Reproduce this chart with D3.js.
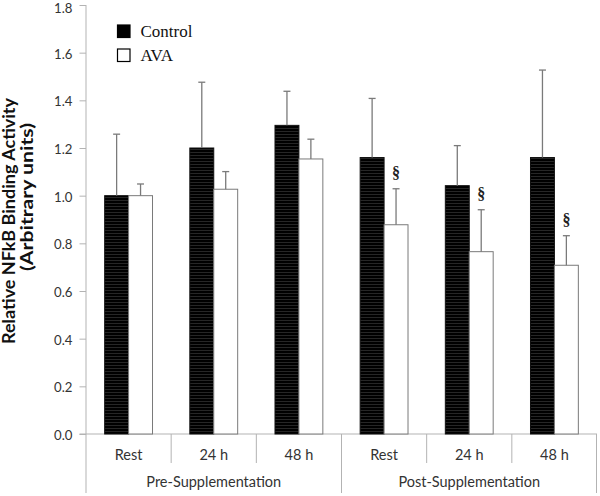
<!DOCTYPE html>
<html>
<head>
<meta charset="utf-8">
<script src="https://cdn.jsdelivr.net/npm/d3@7"></script>
<style>
html,body{margin:0;padding:0;background:#fff;}
svg{display:block;}
</style>
</head>
<body>
<svg id="chart" width="600" height="496"></svg>
<script>
const categories = ["Rest", "24 h", "48 h", "Rest", "24 h", "48 h"];
const groups = ["Pre-Supplementation", "Post-Supplementation"];
const seriesNames = ["Control", "AVA"];
const controlValues = [1.00, 1.20, 1.295, 1.16, 1.042, 1.16];
const controlErr = [0.258, 0.276, 0.143, 0.248, 0.168, 0.367];
const avaValues = [1.00, 1.027, 1.154, 0.878, 0.765, 0.708];
const avaErr = [0.049, 0.074, 0.083, 0.151, 0.176, 0.124];
const avaSignificant = [false, false, false, true, true, true];
const yTicks = [0, 0.2, 0.4, 0.6, 0.8, 1.0, 1.2, 1.4, 1.6, 1.8];
const yTitle1 = "Relative  NFkB Binding Activity";
const yTitle2 = "(Arbitrary units)";

const svg = d3.select("#chart");
const axisColor = "#b3b3b3";
const errColor = "#7a7a7a";
const sansFont = "Lato, 'Open Sans', sans-serif";
const serifFont = "'Liberation Serif', 'DejaVu Serif', serif";

const x0 = 86, x1 = 597, yTop = 5, yBase = 434;
const y = d3.scaleLinear().domain([0, 1.8]).range([yBase, yTop]);
const idx = categories.map((c, i) => i);
const x = d3.scaleBand().domain(idx).range([x0, x1]).padding(0);
const xs = d3.scaleBand().domain(seriesNames).range([0, x.bandwidth()]).paddingOuter(0.78).paddingInner(0);

// pattern for control bars
const defs = svg.append("defs");
const pat = defs.append("pattern").attr("id", "stripes").attr("patternUnits", "userSpaceOnUse")
  .attr("width", 4).attr("height", 3);
pat.append("rect").attr("width", 4).attr("height", 3).attr("fill", "#000");
pat.append("rect").attr("y", 2).attr("width", 4).attr("height", 1).attr("fill", "#262626");

// y axis
const yAxis = svg.append("g").attr("transform", `translate(${x0},0)`)
  .call(d3.axisLeft(y).tickValues(yTicks).tickFormat(d3.format(".1f")).tickSize(6.5).tickPadding(7).tickSizeOuter(6.5));
yAxis.select(".domain").remove();
yAxis.selectAll(".tick line").attr("stroke", axisColor).attr("stroke-width", 1);
yAxis.selectAll(".tick text").attr("font-family", sansFont).attr("font-size", 13.2)
  .attr("dy", d => d >= 1.8 ? "0.6em" : "0.42em").attr("fill", "#333");
svg.append("line").attr("x1", x0).attr("x2", x0).attr("y1", yTop).attr("y2", 493)
  .attr("stroke", axisColor).attr("stroke-width", 1);

// x baseline
svg.append("line").attr("x1", x0 - 6.5).attr("x2", x1).attr("y1", yBase).attr("y2", yBase)
  .attr("stroke", axisColor).attr("stroke-width", 1);

// category separators
idx.slice(1).forEach(i => {
  const xx = x(i);
  const isGroup = i % 3 === 0;
  svg.append("line").attr("x1", xx).attr("x2", xx).attr("y1", yBase).attr("y2", isGroup ? 493 : 463)
    .attr("stroke", axisColor).attr("stroke-width", 1);
});
svg.append("line").attr("x1", x1 - 0.5).attr("x2", x1 - 0.5).attr("y1", yBase).attr("y2", 493)
  .attr("stroke", axisColor).attr("stroke-width", 1);

// category labels
svg.append("g").selectAll("text").data(idx).join("text")
  .attr("x", i => x(i) + x.bandwidth() / 2).attr("y", 460)
  .attr("text-anchor", "middle").attr("font-family", sansFont).attr("font-size", 14.5).attr("fill", "#333")
  .text(i => categories[i]);
// group labels
svg.append("g").selectAll("text").data(groups).join("text")
  .attr("x", (g, j) => x(j * 3) + x.bandwidth() * 1.5).attr("y", 487)
  .attr("text-anchor", "middle").attr("font-family", sansFont).attr("font-size", 14.5).attr("fill", "#333")
  .text(g => g);

// bars
const series = [
  {name: "Control", values: controlValues, err: controlErr},
  {name: "AVA", values: avaValues, err: avaErr}
];
const barG = svg.append("g");
series.forEach(s => {
  idx.forEach(i => {
    const bx = x(i) + xs(s.name);
    const v = s.values[i];
    barG.append("rect").attr("x", bx).attr("y", y(v)).attr("width", xs.bandwidth()).attr("height", yBase - y(v))
      .attr("fill", s.name === "Control" ? "url(#stripes)" : "#fff")
      .attr("stroke", s.name === "Control" ? "#111" : "#7a7a7a").attr("stroke-width", 1);
  });
});
// error bars
series.forEach(s => {
  idx.forEach(i => {
    const cx = x(i) + xs(s.name) + xs.bandwidth() / 2;
    const v = s.values[i], e = s.err[i];
    barG.append("line").attr("x1", cx).attr("x2", cx).attr("y1", y(v)).attr("y2", y(v + e))
      .attr("stroke", errColor).attr("stroke-width", 1.3);
    barG.append("line").attr("x1", cx - 3.5).attr("x2", cx + 3.5).attr("y1", y(v + e)).attr("y2", y(v + e))
      .attr("stroke", errColor).attr("stroke-width", 1.3);
  });
});
// significance markers
idx.filter(i => avaSignificant[i]).forEach(i => {
  const cx = x(i) + xs("AVA") + xs.bandwidth() / 2;
  svg.append("text").attr("x", cx).attr("y", y(avaValues[i] + avaErr[i]) - 16).attr("dy", "0.35em")
    .attr("text-anchor", "middle").attr("font-family", serifFont).attr("font-size", 16).attr("font-weight", "bold")
    .attr("fill", "#222").text("§");
});

// legend
const legend = svg.append("g");
seriesNames.forEach((n, j) => {
  const ly = 25 + j * 24;
  legend.append("rect").attr("x", 117.5).attr("y", ly).attr("width", 12.5).attr("height", 12.5)
    .attr("fill", n === "Control" ? "#000" : "#fff").attr("stroke", "#000").attr("stroke-width", 1.2);
  legend.append("text").attr("x", 140.5).attr("y", ly + 12.3).attr("font-family", serifFont)
    .attr("font-size", 17).attr("fill", "#111").text(n);
});

// y titles
svg.append("text").attr("transform", "translate(15,221) rotate(-90)")
  .attr("text-anchor", "middle").attr("font-family", sansFont).attr("font-weight", "bold")
  .attr("font-size", 16.5).attr("fill", "#111")
  .attr("textLength", 246).attr("lengthAdjust", "spacingAndGlyphs").text(yTitle1);
svg.append("text").attr("transform", "translate(33,197) rotate(-90)")
  .attr("text-anchor", "middle").attr("font-family", sansFont).attr("font-weight", "bold")
  .attr("font-size", 16.5).attr("fill", "#111")
  .attr("textLength", 148).attr("lengthAdjust", "spacingAndGlyphs").text(yTitle2);
</script>
</body>
</html>
